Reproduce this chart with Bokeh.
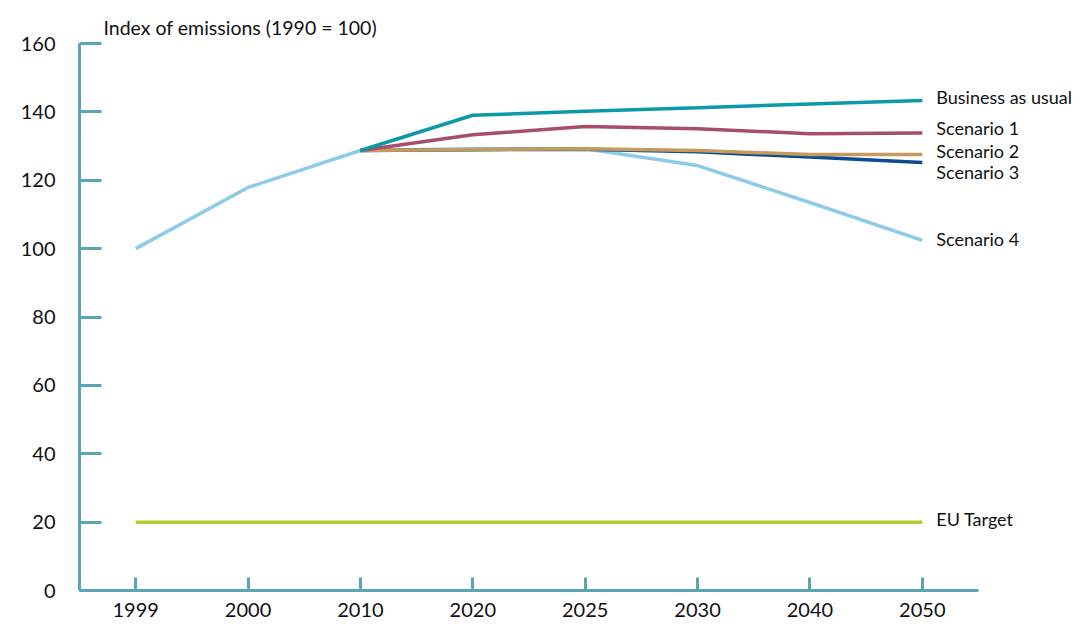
from bokeh.plotting import figure
from bokeh.models import Range1d, FixedTicker, ColumnDataSource
from bokeh.core.properties import value
from bokeh.embed import file_html
from bokeh.resources import INLINE

years = ["1999", "2000", "2010", "2020", "2025", "2030", "2040", "2050"]
y_ticks = [0, 20, 40, 60, 80, 100, 120, 140, 160]

bau_years = ["2010", "2020", "2025", "2030", "2040", "2050"]
bau = [128.7, 139.0, 140.2, 141.2, 142.3, 143.3]
s1 = [128.7, 133.3, 135.7, 135.1, 133.6, 133.8]
s2 = [128.7, 129.0, 129.2, 128.7, 127.5, 127.5]
s3 = [128.7, 128.9, 129.1, 128.3, 126.8, 125.2]
s4 = [100.0, 117.9, 128.7, 129.2, 129.2, 124.3, 113.5, 102.4]
eu_target = [20, 20, 20, 20, 20, 20, 20, 20]

series_names = ["Business as usual", "Scenario 1", "Scenario 2", "Scenario 3", "Scenario 4", "EU Target"]

FONT = "Lato"
AXIS_COLOR = "#5ba4b4"

# categorical positions (centre of each equal-width slot)
pos = {y: i + 0.5 for i, y in enumerate(years)}
n = len(years)
# extra room on the right (in slot units) so the end labels sit inside the frame
frame_w = 1001
slot_px = 899 / n

p = figure(width=1080, height=620, output_backend="svg", toolbar_location=None,
           x_range=Range1d(0, frame_w / slot_px),
           y_range=Range1d(0, 160),
           min_border_left=79, min_border_right=0, min_border_top=43, min_border_bottom=30,
           background_fill_color="white", border_fill_color="white", outline_line_color=None)

p.xgrid.grid_line_color = None
p.ygrid.grid_line_color = None

p.title.text = "Index  of emissions (1990 = 100)"
p.title.text_font = FONT
p.title.text_font_size = "19.5px"
p.title.text_font_style = "normal"
p.title.text_color = "#111111"
p.title.offset = 24
p.title.standoff = 9

colors = {
    "bau": "#0d9aa8",
    "s1": "#a74d6d",
    "s2": "#c59b5b",
    "s3": "#0c4b93",
    "s4": "#8ccbe9",
    "eu": "#b3cb2e",
}
lw = 3.5
xs_all = [pos[y] for y in years]
xs_bau = [pos[y] for y in bau_years]
p.line(xs_all, eu_target, line_color=colors["eu"], line_width=lw)
p.line(xs_all, s4, line_color=colors["s4"], line_width=lw)
p.line(xs_bau, s3, line_color=colors["s3"], line_width=lw)
p.line(xs_bau, s2, line_color=colors["s2"], line_width=lw)
p.line(xs_bau, s1, line_color=colors["s1"], line_width=lw)
p.line(xs_bau, bau, line_color=colors["bau"], line_width=lw)

last_vals = [bau[-1], s1[-1], s2[-1], s3[-1], s4[-1], eu_target[-1]]
nudges = [-4, -5, -4, 10, -1, -3]
lab = ColumnDataSource(dict(x=[pos[years[-1]]] * len(series_names), y=last_vals,
                            t=series_names, dy=nudges))
p.text(x="x", y="y", text="t", y_offset="dy", x_offset=14, source=lab,
       text_font=value(FONT), text_font_size="18px", text_color="#111111",
       text_baseline="middle", text_align="left")

for ax in (p.xaxis, p.yaxis):
    ax.axis_line_color = AXIS_COLOR
    ax.axis_line_width = 3
    ax.major_tick_line_color = AXIS_COLOR
    ax.major_tick_line_width = 3
    ax.minor_tick_line_color = None
    ax.major_label_text_font = FONT
    ax.major_label_text_font_size = "20px"
    ax.major_label_text_color = "#111111"

p.yaxis.ticker = FixedTicker(ticks=y_ticks)
p.yaxis.major_tick_in = 22
p.yaxis.major_tick_out = 0
p.yaxis.major_label_standoff = 24

p.xaxis.ticker = FixedTicker(ticks=xs_all)
p.xaxis.major_label_overrides = {pos[y]: y for y in years}
p.xaxis.bounds = (0, n)
p.xaxis.major_tick_in = 13
p.xaxis.major_tick_out = 0
p.xaxis.major_label_standoff = 12

open("out.html", "w").write(file_html(p, INLINE))
